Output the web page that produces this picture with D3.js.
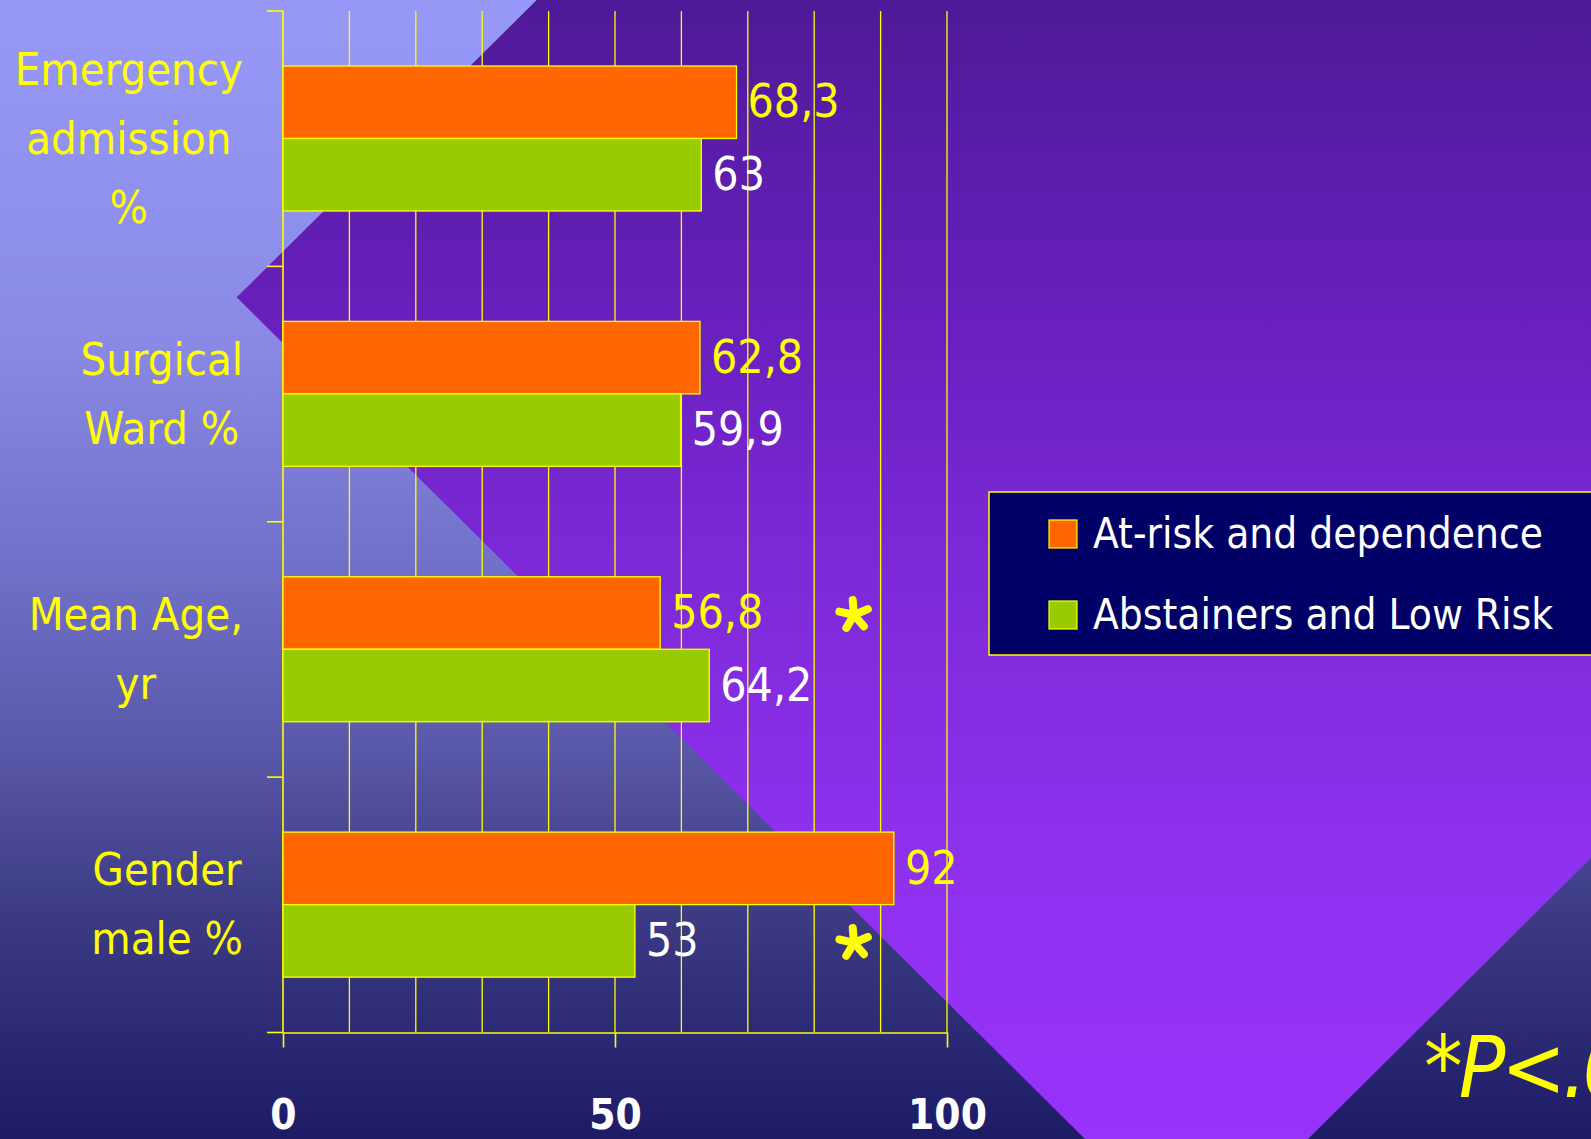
<!DOCTYPE html>
<html>
<head>
<meta charset="utf-8">
<script src="https://cdn.jsdelivr.net/npm/d3@7"></script>
<style>
  html, body { margin: 0; padding: 0; overflow: hidden; background: #1d1b66; }
  svg { display: block; }
</style>
</head>
<body>
<svg id="chart"></svg>
<script>
// ---------------- data ----------------
const categories = ["Emergency admission %", "Surgical Ward %", "Mean Age, yr", "Gender male %"];
const categoryLines = [["Emergency", "admission", "%"], ["Surgical", "Ward %"], ["Mean Age,", "yr"], ["Gender", "male %"]];
const seriesNames = ["At-risk and dependence", "Abstainers and Low Risk"];
const atRiskValues = [68.3, 62.8, 56.8, 92];
const lowRiskValues = [63, 59.9, 64.2, 53];
const xTickLabels = [0, 50, 100];
const significantMarks = [
  { category: "Mean Age, yr", series: "At-risk and dependence" },
  { category: "Gender male %", series: "Abstainers and Low Risk" }
];
const pNote = "*P<.05";

// ---------------- layout / style ----------------
const W = 1591, H = 1139;
const seriesColors = ["#ff6600", "#99cc00"];
const valueColors = ["#ffff00", "#ffffff"];
const YELLOW = "#ffff00";
const FONT = '"Comic Sans MS", "DejaVu Sans Condensed", "DejaVu Sans", sans-serif';

const svg = d3.select("#chart").attr("width", W).attr("height", H);
const defs = svg.append("defs");

const bgGrad = defs.append("linearGradient").attr("id", "bgGrad")
  .attr("x1", 0).attr("y1", 0).attr("x2", 0).attr("y2", 1);
[[0, "#9898f8"], [0.3, "#8a8ae6"], [0.5, "#7070c8"], [0.65, "#5b59aa"], [0.8, "#3c3b84"], [1, "#1d1b66"]]
  .forEach(([o, c]) => bgGrad.append("stop").attr("offset", o).attr("stop-color", c));

const purpleGrad = defs.append("linearGradient").attr("id", "purpleGrad")
  .attr("gradientUnits", "userSpaceOnUse")
  .attr("x1", 0).attr("y1", 0).attr("x2", 0).attr("y2", H);
[[0, "#4e1a98"], [0.3, "#6a20c0"], [0.5, "#7d29d8"], [0.75, "#8e31ee"], [1, "#9733fb"]]
  .forEach(([o, c]) => purpleGrad.append("stop").attr("offset", o).attr("stop-color", c));

// background
svg.append("rect").attr("width", W).attr("height", H).attr("fill", "url(#bgGrad)");
svg.append("polygon")
  .attr("points", [[236.7, 297.3], [536.7, 0], [W, 0], [W, 858], [1308, H], [1085, H]].map(p => p.join(",")).join(" "))
  .attr("fill", "url(#purpleGrad)");

// scales
const x = d3.scaleLinear().domain([0, 100]).range([283, 947]);
const y = d3.scaleBand().domain(categories).range([11, 1032.5]).padding(0);
const ySub = d3.scaleBand().domain(seriesNames).range([55, 200]).padding(0);

const rows = categories.map((c, i) => ({
  category: c, lines: categoryLines[i],
  values: [atRiskValues[i], lowRiskValues[i]]
}));

const locale = d3.formatLocale({ decimal: ",", thousands: ".", grouping: [3], currency: ["", ""] });
const fmt = locale.format("~g");

// gridlines
const grid = svg.append("g");
grid.selectAll("line").data(x.ticks(10).filter(t => t > 0)).join("line")
  .attr("x1", d => x(d)).attr("x2", d => x(d))
  .attr("y1", y.range()[0]).attr("y2", y.range()[1])
  .attr("stroke", YELLOW).attr("stroke-width", 1.3);

// y axis line + ticks at band boundaries
const yAxisG = svg.append("g");
yAxisG.append("line").attr("x1", x(0)).attr("x2", x(0))
  .attr("y1", y.range()[0]).attr("y2", y.range()[1])
  .attr("stroke", YELLOW).attr("stroke-width", 1.6);
const boundaries = categories.map(c => y(c)).concat([y.range()[1]]);
yAxisG.selectAll("line.tick").data(boundaries).join("line").attr("class", "tick")
  .attr("x1", x(0) - 16).attr("x2", x(0))
  .attr("y1", d => d).attr("y2", d => d)
  .attr("stroke", YELLOW).attr("stroke-width", 1.6);

// x axis
const xAxisG = svg.append("g").attr("transform", `translate(0,${y.range()[1]})`)
  .call(d3.axisBottom(x).tickValues(xTickLabels).tickSize(15).tickSizeOuter(0).tickFormat(d3.format("d")));
xAxisG.select(".domain").attr("stroke", YELLOW).attr("stroke-width", 1.6);
xAxisG.selectAll(".tick line").attr("stroke", YELLOW).attr("stroke-width", 1.6);
xAxisG.selectAll(".tick text")
  .attr("y", 96).attr("dy", 0)
  .attr("fill", "#ffffff")
  .style("font-family", FONT).style("font-size", "42px").style("font-weight", "bold");

// bars
const groups = svg.append("g").selectAll("g").data(rows).join("g")
  .attr("transform", d => `translate(0,${y(d.category)})`);

groups.selectAll("rect").data(d => d.values.map((v, k) => ({ v, k, s: seriesNames[k] }))).join("rect")
  .attr("x", x(0))
  .attr("y", d => ySub(d.s))
  .attr("width", d => x(d.v) - x(0))
  .attr("height", ySub.bandwidth())
  .attr("fill", d => seriesColors[d.k])
  .attr("stroke", YELLOW).attr("stroke-width", 1.3);

groups.selectAll("text.val").data(d => d.values.map((v, k) => ({ v, k, s: seriesNames[k] }))).join("text")
  .attr("class", "val")
  .attr("x", d => x(d.v) + 11)
  .attr("y", d => ySub(d.s) + ySub.bandwidth() / 2)
  .attr("dy", "0.33em")
  .attr("fill", d => valueColors[d.k])
  .style("font-family", FONT).style("font-size", "46px")
  .text(d => fmt(d.v));

// category labels
const labelRight = 243, lineGap = 69;
rows.forEach(r => {
  const cy = y(r.category) + y.bandwidth() / 2;
  const g = svg.append("g");
  const n = r.lines.length;
  const texts = g.selectAll("text").data(r.lines).join("text")
    .attr("text-anchor", "middle")
    .attr("y", (d, i) => cy + (i - (n - 1) / 2) * lineGap + 15)
    .attr("fill", YELLOW)
    .style("font-family", FONT).style("font-size", "45px")
    .text(d => d);
  let maxW = 0;
  texts.each(function () { maxW = Math.max(maxW, this.getComputedTextLength()); });
  texts.attr("x", labelRight - maxW / 2);
});

// significance asterisks
const starX = x(86);
function starPath(cx, cy, r) {
  let p = "";
  for (let i = 0; i < 5; i++) {
    const a = (-95 + i * 72) * Math.PI / 180;
    p += `M${cx},${cy}L${cx + r * Math.cos(a)},${cy + r * Math.sin(a)}`;
  }
  return p;
}
svg.append("g").selectAll("path").data(significantMarks).join("path")
  .attr("d", d => starPath(starX, y(d.category) + ySub(d.series) + ySub.bandwidth() / 2 + 2, 15))
  .attr("stroke", YELLOW).attr("stroke-width", 8).attr("stroke-linecap", "round").attr("fill", "none");

// legend
const legend = svg.append("g").attr("transform", "translate(989,492)");
legend.append("rect").attr("width", 640).attr("height", 163)
  .attr("fill", "#000066").attr("stroke", YELLOW).attr("stroke-width", 1.5);
const li = legend.selectAll("g").data(seriesNames).join("g")
  .attr("transform", (d, i) => `translate(60,${28 + i * 81})`);
li.append("rect").attr("width", 28).attr("height", 28)
  .attr("fill", (d, i) => seriesColors[i]).attr("stroke", YELLOW).attr("stroke-width", 1.2);
li.append("text").attr("x", 44).attr("y", 28)
  .attr("fill", "#ffffff")
  .style("font-family", FONT).style("font-size", "42px")
  .text(d => d);

// p-value note
svg.append("text").attr("x", 1424).attr("y", 1097)
  .attr("fill", YELLOW)
  .style("font-family", FONT).style("font-size", "86px").style("font-style", "italic")
  .style("letter-spacing", "-4px")
  .text(pNote);
</script>
</body>
</html>
